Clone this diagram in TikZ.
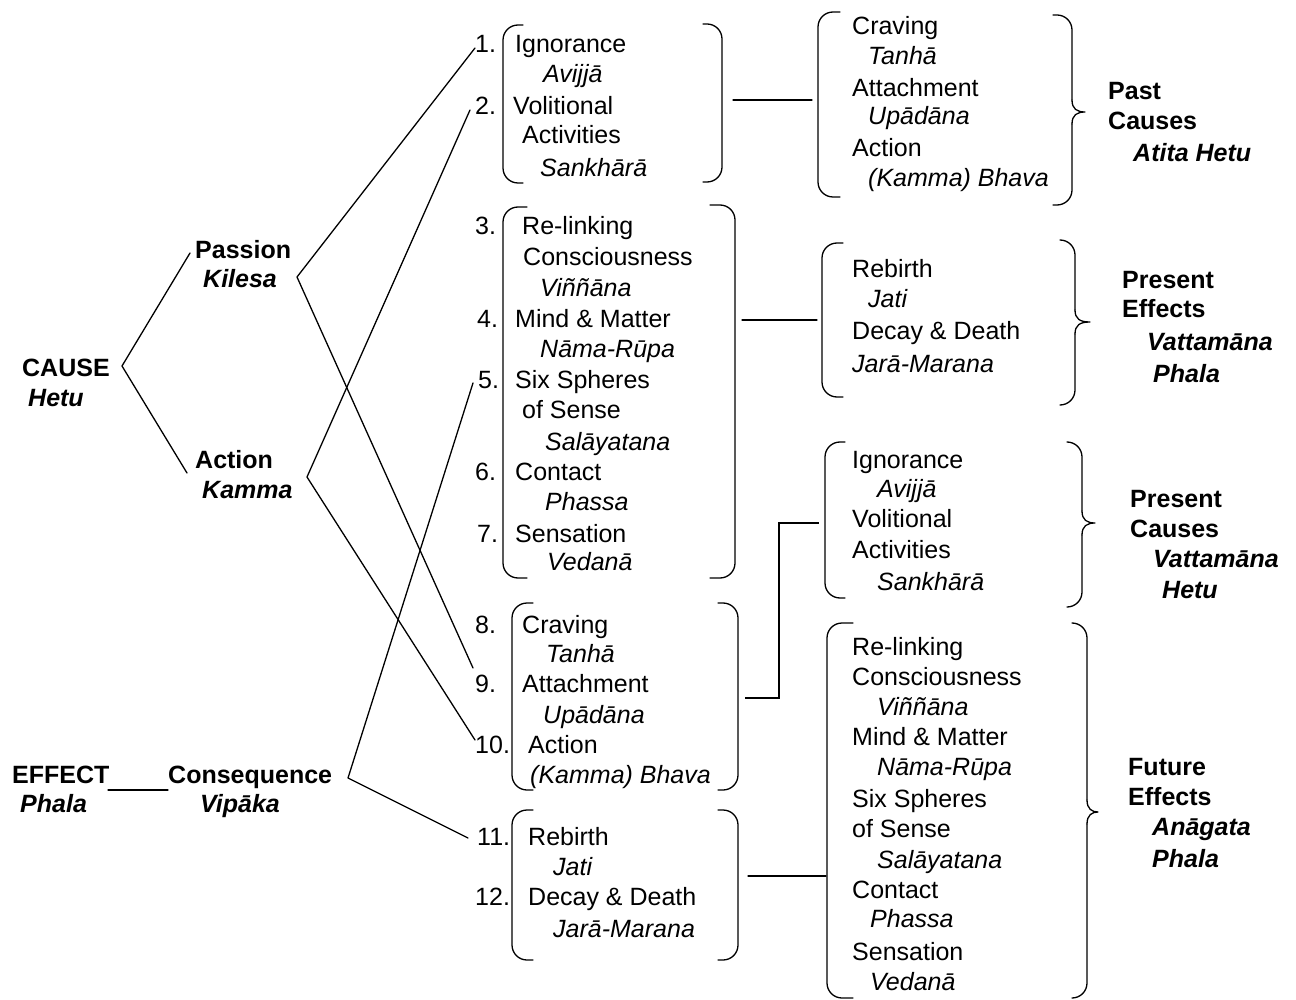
\documentclass[tikz,border=0pt]{standalone}
\usepackage{fontspec}
\setmainfont{Liberation Sans}
\newcommand\mylbrk[4]{\draw[brk] (#4,#2) -- (#1,#2) -- (#1,#3) -- (#4,#3);}
\newcommand\mybrace[6]{%
  \draw[brk] (#4,#2) -- (#1,#2) -- (#1,#6-12);
  \draw[ln] (#1,#6-12) .. controls (#1,#6-3) and (#1+5,#6) .. (#5,#6) .. controls (#1+5,#6) and (#1,#6+3) .. (#1,#6+12);
  \draw[brk] (#1,#6+12) -- (#1,#3) -- (#4,#3);}
\begin{document}
\begin{tikzpicture}[x=1pt,y=-1pt,
  t/.style={anchor=base west, inner sep=0pt, font=\fontsize{25}{30}\selectfont},
  ti/.style={t, font=\fontsize{25}{30}\selectfont\itshape},
  tb/.style={t, font=\fontsize{25}{30}\selectfont\bfseries},
  tbi/.style={t, font=\fontsize{25}{30}\selectfont\bfseries\itshape},
  ln/.style={line width=1.3pt, line cap=round, line join=round},
  brk/.style={ln, rounded corners=15pt}]
\fill[white] (0,0) rectangle (1296,1000);
\useasboundingbox (0,0) rectangle (1296,1000);

% ---------------- left column ----------------
\node[tb]  (cause)   at (22,377)  {CAUSE};
\node[tbi] (hetu)    at (28,406)  {Hetu};
\node[tb]  (passion) at (195,259) {Passion};
\node[tbi] (kilesa)  at (203,288) {Kilesa};
\node[tb]  (action)  at (195,468) {Action};
\node[tbi] (kamma)   at (202,498) {Kamma};
\node[tb]  (effect)  at (12,783)  {EFFECT};
\node[tbi] (phala)   at (20,812)  {Phala};
\node[tb]  (conseq)  at (168,783) {Consequence};
\node[tbi] (vipaka)  at (200,812) {Vipāka};

% ---------------- numbers ----------------
\node[t] (n1)  at (475,53)  {1.};
\node[t] (n2)  at (475,115) {2.};
\node[t] (n3)  at (475,235) {3.};
\node[t] (n4)  at (477,327) {4.};
\node[t] (n5)  at (478,388) {5.};
\node[t] (n6)  at (475,480) {6.};
\node[t] (n7)  at (477,542) {7.};
\node[t] (n8)  at (475,633) {8.};
\node[t] (n9)  at (475,692) {9.};
\node[t] (n10) at (475,753) {10.};
\node[t] (n11) at (477,845) {11.};
\node[t] (n12) at (475,905) {12.};

% ---------------- middle group 1 ----------------
\node[t]  (a1) at (515,53)  {Ignorance};
\node[ti] (a2) at (543,83)  {Avijjā};
\node[t]  (a3) at (513,115) {Volitional};
\node[t]  (a4) at (522,144) {Activities};
\node[ti] (a5) at (540,177) {Sankhārā};

% ---------------- middle group 2 ----------------
\node[t]  (b1)  at (522,235) {Re-linking};
\node[t]  (b2)  at (523,266) {Consciousness};
\node[ti] (b3)  at (540,297) {Viññāna};
\node[t]  (b4)  at (515,327) {Mind \& Matter};
\node[ti] (b5)  at (540,357) {Nāma-Rūpa};
\node[t]  (b6)  at (515,388) {Six Spheres};
\node[t]  (b7)  at (522,418) {of Sense};
\node[ti] (b8)  at (545,450) {Salāyatana};
\node[t]  (b9)  at (515,480) {Contact};
\node[ti] (b10) at (545,510) {Phassa};
\node[t]  (b11) at (515,542) {Sensation};
\node[ti] (b12) at (547,570) {Vedanā};

% ---------------- middle group 3 ----------------
\node[t]  (c1) at (522,633) {Craving};
\node[ti] (c2) at (546,662) {Tanhā};
\node[t]  (c3) at (522,692) {Attachment};
\node[ti] (c4) at (543,723) {Upādāna};
\node[t]  (c5) at (528,753) {Action};
\node[ti] (c6) at (530,783) {(Kamma) Bhava};

% ---------------- middle group 4 ----------------
\node[t]  (d1) at (528,845) {Rebirth};
\node[ti] (d2) at (553,875) {Jati};
\node[t]  (d3) at (528,905) {Decay \& Death};
\node[ti] (d4) at (553,937) {Jarā-Marana};

% ---------------- right group 1 ----------------
\node[t]  (e1) at (852,35)  {Craving};
\node[ti] (e2) at (868,65)  {Tanhā};
\node[t]  (e3) at (852,97)  {Attachment};
\node[ti] (e4) at (868,125) {Upādāna};
\node[t]  (e5) at (852,157) {Action};
\node[ti] (e6) at (868,187) {(Kamma) Bhava};
\node[tb]  (e7) at (1108,100) {Past};
\node[tb]  (e8) at (1108,130) {Causes};
\node[tbi] (e9) at (1133,162) {Atita Hetu};

% ---------------- right group 2 ----------------
\node[t]  (f1) at (852,278) {Rebirth};
\node[ti] (f2) at (868,308) {Jati};
\node[t]  (f3) at (852,340) {Decay \& Death};
\node[ti] (f4) at (852,372) {Jarā-Marana};
\node[tb]  (f5) at (1122,289) {Present};
\node[tb]  (f6) at (1122,318) {Effects};
\node[tbi] (f7) at (1147,350) {Vattamāna};
\node[tbi] (f8) at (1153,382) {Phala};

% ---------------- right group 3 ----------------
\node[t]  (g1) at (852,468) {Ignorance};
\node[ti] (g2) at (877,497) {Avijjā};
\node[t]  (g3) at (852,527) {Volitional};
\node[t]  (g4) at (852,558) {Activities};
\node[ti] (g5) at (877,590) {Sankhārā};
\node[tb]  (g6) at (1130,507) {Present};
\node[tb]  (g7) at (1130,537) {Causes};
\node[tbi] (g8) at (1153,567) {Vattamāna};
\node[tbi] (g9) at (1162,598) {Hetu};

% ---------------- right group 4 ----------------
\node[t]  (h1)  at (852,655) {Re-linking};
\node[t]  (h2)  at (852,685) {Consciousness};
\node[ti] (h3)  at (877,715) {Viññāna};
\node[t]  (h4)  at (852,745) {Mind \& Matter};
\node[ti] (h5)  at (877,775) {Nāma-Rūpa};
\node[t]  (h6)  at (852,807) {Six Spheres};
\node[t]  (h7)  at (852,837) {of Sense};
\node[ti] (h8)  at (877,868) {Salāyatana};
\node[t]  (h9)  at (852,898) {Contact};
\node[ti] (h10) at (870,927) {Phassa};
\node[t]  (h11) at (852,960) {Sensation};
\node[ti] (h12) at (870,990) {Vedanā};
\node[tb]  (h13) at (1128,775) {Future};
\node[tb]  (h14) at (1128,805) {Effects};
\node[tbi] (h15) at (1152,835) {Anāgata};
\node[tbi] (h16) at (1152,867) {Phala};

% ---------------- brackets ----------------
\mylbrk{503}{25}{183}{523}
\mylbrk{722}{24}{182}{703}
\mylbrk{503}{207}{578}{527}
\mylbrk{735}{205}{578}{710}
\mylbrk{512}{603}{790}{533}
\mylbrk{738}{603}{790}{718}
\mylbrk{512}{810}{960}{533}
\mylbrk{738}{810}{960}{718}

\mylbrk{818}{12}{197}{840}
\mybrace{1072}{15}{205}{1053}{1085}{112}
\mylbrk{822}{243}{397}{843}
\mybrace{1075}{240}{405}{1060}{1090}{322}
\mylbrk{825}{442}{598}{845}
\mybrace{1082}{442}{607}{1067}{1095}{523}
\mylbrk{827}{623}{998}{853}
\mybrace{1087}{623}{998}{1072}{1098}{812}

% ---------------- connector end points ----------------
\coordinate (cv)  at (122,366);
\coordinate (cvp) at (190,253);
\coordinate (cva) at (187,473);
\coordinate (pv)  at (297,277);
\coordinate (av)  at (307,477);
\coordinate (qv)  at (348,778);
\coordinate (p1)  at (475,48);
\coordinate (p9)  at (473,668);
\coordinate (p2)  at (470,110);
\coordinate (p10) at (475,740);
\coordinate (p5)  at (473,383);
\coordinate (p11) at (468,838);
\coordinate (ul1) at (108,790);
\coordinate (ul2) at (168,790);
\coordinate (k1a) at (733,100);  \coordinate (k1b) at (812,100);
\coordinate (k2a) at (742,320);  \coordinate (k2b) at (817,320);
\coordinate (k3a) at (745,698);  \coordinate (k3m) at (779,698);
\coordinate (k3n) at (779,523);  \coordinate (k3b) at (819,523);
\coordinate (k4a) at (748,876);  \coordinate (k4b) at (826,876);

% ---------------- connectors ----------------
\draw[ln] (cvp) -- (cv) -- (cva);
\draw[ln] (p1) -- (pv) -- (p9);
\draw[ln] (p2) -- (av) -- (p10);
\draw[ln] (p5) -- (qv) -- (p11);
\draw[ln] (ul1) -- (ul2);
\draw[ln] (k1a) -- (k1b);
\draw[ln] (k2a) -- (k2b);
\draw[ln, line cap=butt, line join=miter] (k3a) -- (k3m) -- (k3n) -- (k3b);
\draw[ln] (k4a) -- (k4b);
\end{tikzpicture}
\end{document}
